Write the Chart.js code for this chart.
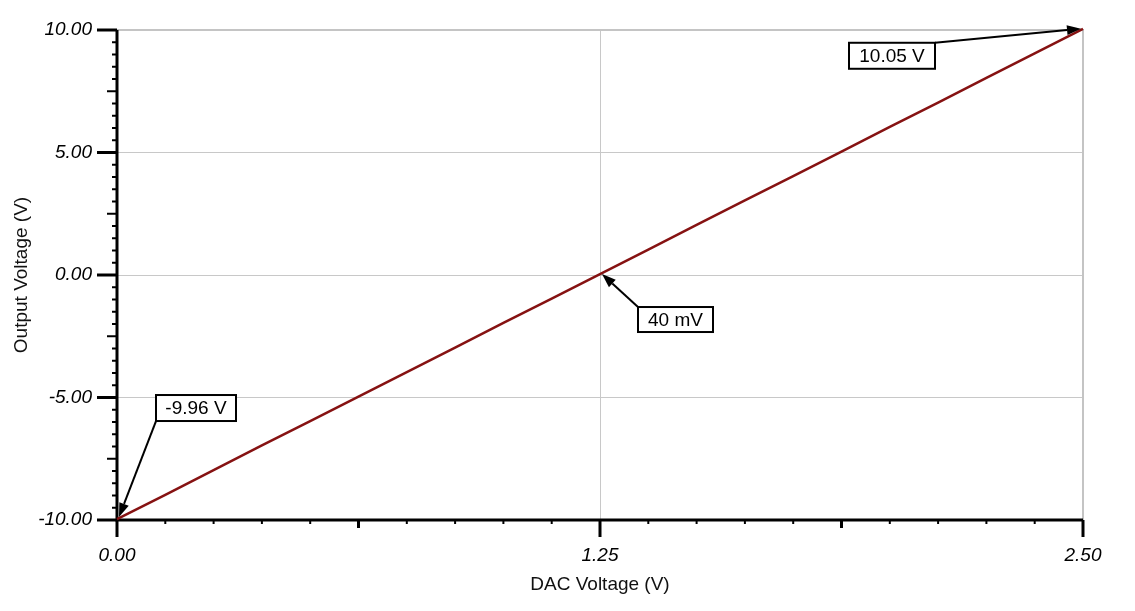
<!DOCTYPE html>
<html>
<head>
<meta charset="utf-8">
<script src="https://cdn.jsdelivr.net/npm/chart.js@4.4.1/dist/chart.umd.min.js"></script>
<style>
  body { margin: 0; background: #fff; }
  #wrap { width: 1135px; height: 611px; }
</style>
</head>
<body>
<div id="wrap"><canvas id="dacChart" width="1135" height="611"></canvas></div>
<script>
  // DAC input (V) vs amplifier output (V)
  const dacVoltage = [0, 0.125, 0.25, 0.375, 0.5, 0.625, 0.75, 0.875, 1.0, 1.125, 1.25,
                      1.375, 1.5, 1.625, 1.75, 1.875, 2.0, 2.125, 2.25, 2.375, 2.5];
  const outputVoltage = [-9.96, -8.97, -7.96, -6.95, -5.96, -4.96, -3.96, -2.96, -1.95, -0.96, 0.04,
                         1.04, 2.05, 3.05, 4.04, 5.04, 6.05, 7.04, 8.05, 9.05, 10.05];
  const xTickLabels = ['0.00', '1.25', '2.50'];
  const yTickLabels = ['-10.00', '-5.00', '0.00', '5.00', '10.00'];

  const FONT = "'Liberation Sans', Arial, sans-serif";
  const isMult = (v, s) => Math.abs(v / s - Math.round(v / s)) < 1e-6;

  // callouts: index into the data, box offset from the marked point (px)
  const callouts = [
    { idx: 0,  text: v => v.toFixed(2) + ' V', box: [39, -124, 80, 26], from: 'bl' },
    { idx: 10, text: v => Math.round(v * 1000) + ' mV', box: [38, 33, 75, 25], from: 'tl' },
    { idx: 20, text: v => v.toFixed(2) + ' V', box: [-234, 14, 86, 26], from: 'tr' }
  ];

  function arrow(ctx, x1, y1, x2, y2) {
    const a = Math.atan2(y2 - y1, x2 - x1);
    const hl = 14, hw = 5;
    ctx.beginPath();
    ctx.moveTo(x1, y1);
    ctx.lineTo(x2 - hl * Math.cos(a), y2 - hl * Math.sin(a));
    ctx.stroke();
    ctx.beginPath();
    ctx.moveTo(x2, y2);
    ctx.lineTo(x2 - hl * Math.cos(a) + hw * Math.sin(a), y2 - hl * Math.sin(a) - hw * Math.cos(a));
    ctx.lineTo(x2 - hl * Math.cos(a) - hw * Math.sin(a), y2 - hl * Math.sin(a) + hw * Math.cos(a));
    ctx.closePath();
    ctx.fill();
  }

  const axesPlugin = {
    id: 'axesPlugin',
    beforeDatasetsDraw(chart) {
      const { ctx, chartArea: ca, scales: { x, y } } = chart;
      ctx.save();
      // grey frame on top and right
      ctx.strokeStyle = '#c4c4c4';
      ctx.lineWidth = 2;
      ctx.beginPath();
      ctx.moveTo(ca.left, ca.top);
      ctx.lineTo(ca.right, ca.top);
      ctx.lineTo(ca.right, ca.bottom);
      ctx.stroke();

      ctx.strokeStyle = '#000';
      // x ticks
      x.ticks.forEach(t => {
        const px = x.getPixelForValue(t.value);
        let len = 4, w = 2;
        if (isMult(t.value, 1.25)) { len = 17; w = 3; }
        else if (isMult(t.value, 0.625)) { len = 8; w = 3; }
        ctx.lineWidth = w;
        ctx.beginPath();
        ctx.moveTo(px, ca.bottom);
        ctx.lineTo(px, ca.bottom + len);
        ctx.stroke();
      });
      // y ticks
      y.ticks.forEach(t => {
        const py = y.getPixelForValue(t.value);
        let len = 5, w = 2;
        if (isMult(t.value, 5)) { len = 20; w = 3; }
        else if (isMult(t.value, 2.5)) { len = 10; w = 2; }
        ctx.lineWidth = w;
        ctx.beginPath();
        ctx.moveTo(ca.left, py);
        ctx.lineTo(ca.left - len, py);
        ctx.stroke();
      });
      // axis lines
      ctx.lineWidth = 3;
      ctx.beginPath();
      ctx.moveTo(ca.left, ca.top);
      ctx.lineTo(ca.left, ca.bottom);
      ctx.lineTo(ca.right, ca.bottom);
      ctx.stroke();
      ctx.restore();
    },
    afterDraw(chart) {
      const { ctx, scales: { x, y } } = chart;
      ctx.save();
      ctx.font = '19px ' + FONT;
      ctx.textAlign = 'center';
      ctx.textBaseline = 'middle';
      callouts.forEach(c => {
        const px = x.getPixelForValue(dacVoltage[c.idx]);
        const py = y.getPixelForValue(outputVoltage[c.idx]);
        const [dx, dy, bw, bh] = c.box;
        const bx = px + dx, by = py + dy;
        let sx = bx, sy = by;
        if (c.from === 'bl') { sy = by + bh; }
        if (c.from === 'tr') { sx = bx + bw; }
        ctx.strokeStyle = '#000';
        ctx.fillStyle = '#000';
        ctx.lineWidth = 2;
        arrow(ctx, sx, sy, px + (c.idx === 20 ? -2 : 2), py + (c.idx === 0 ? -2 : 0));
        ctx.fillStyle = '#fff';
        ctx.fillRect(bx, by, bw, bh);
        ctx.strokeRect(bx, by, bw, bh);
        ctx.fillStyle = '#000';
        ctx.fillText(c.text(outputVoltage[c.idx]), bx + bw / 2, by + bh / 2 + 1);
      });
      ctx.restore();
    }
  };

  const ctx = document.getElementById('dacChart').getContext('2d');
  const dacChart = new Chart(ctx, {
    type: 'line',
    data: {
      datasets: [{
        data: dacVoltage.map((v, i) => ({ x: v, y: outputVoltage[i] })),
        borderColor: '#861212',
        borderWidth: 2.5,
        pointRadius: 0,
        tension: 0,
        clip: false
      }]
    },
    options: {
      responsive: false,
      animation: false,
      layout: { padding: { top: 30, right: 52, bottom: 0, left: 0 } },
      plugins: { legend: { display: false }, tooltip: { enabled: false } },
      scales: {
        x: {
          type: 'linear',
          min: 0, max: 2.5,
          afterFit: s => { s.height = 91; s.paddingLeft = 0; s.paddingRight = 0; },
          border: { display: false },
          grid: {
            drawTicks: false,
            color: c => isMult(c.tick.value, 1.25) ? '#c8c8c8' : 'rgba(0,0,0,0)',
            lineWidth: 1
          },
          ticks: {
            stepSize: 0.125,
            autoSkip: false,
            maxRotation: 0,
            padding: 24,
            color: '#000',
            font: { family: FONT, size: 19, style: 'italic' },
            callback: v => {
              const lbl = xTickLabels.find(l => Math.abs(parseFloat(l) - v) < 1e-6);
              return lbl || '';
            }
          },
          title: {
            display: true,
            text: 'DAC Voltage (V)',
            color: '#111',
            font: { family: FONT, size: 19 },
            padding: { top: 0, bottom: 15 }
          }
        },
        y: {
          min: -10, max: 10,
          afterFit: s => { s.width = 117; s.paddingTop = 0; s.paddingBottom = 0; },
          border: { display: false },
          grid: {
            drawTicks: false,
            color: c => isMult(c.tick.value, 5) ? '#c8c8c8' : 'rgba(0,0,0,0)',
            lineWidth: 1
          },
          ticks: {
            stepSize: 0.5,
            autoSkip: false,
            padding: 25,
            color: '#000',
            font: { family: FONT, size: 19, style: 'italic' },
            callback: v => {
              const lbl = yTickLabels.find(l => Math.abs(parseFloat(l) - v) < 1e-6);
              return lbl || '';
            }
          },
          title: {
            display: true,
            text: 'Output Voltage (V)',
            color: '#111',
            font: { family: FONT, size: 19 },
            padding: { top: 10, bottom: 0 }
          }
        }
      }
    },
    plugins: [axesPlugin]
  });
</script>
</body>
</html>
